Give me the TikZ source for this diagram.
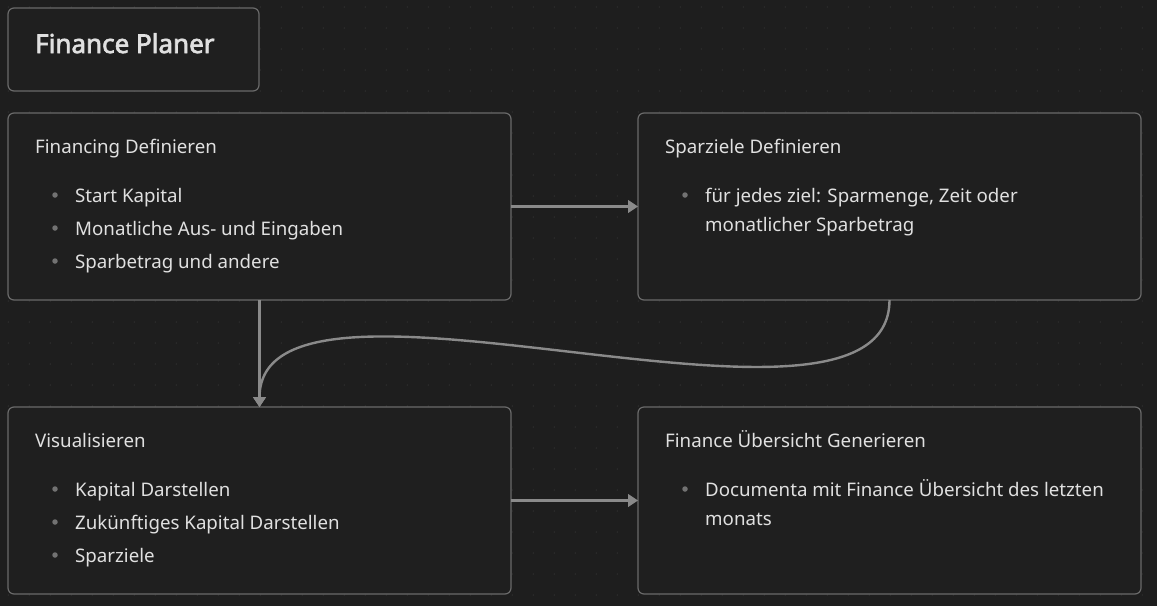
\documentclass[tikz,border=0pt]{standalone}
\usepackage{fontspec}
\setmainfont{Noto Sans}
\newfontfamily\titlefont[FakeBold=2.6]{Noto Sans}
\usetikzlibrary{arrows.meta}
\definecolor{bgc}{HTML}{1E1E1E}
\definecolor{boxfill}{HTML}{1F1F1F}
\definecolor{boxline}{HTML}{6A6A6A}
\definecolor{arrowc}{HTML}{8A8A8A}
\definecolor{txtc}{HTML}{E0E0E0}
\definecolor{dotc}{HTML}{2E2E2E}
\definecolor{bulc}{HTML}{727272}
\tikzset{
  card/.style={draw=boxline, fill=boxfill, line width=1.2pt, rounded corners=6pt,
    minimum width=503pt, minimum height=187pt, inner sep=0pt, outer sep=0pt},
  titlecard/.style={card, minimum width=251pt, minimum height=83pt},
  head/.style={anchor=base west, inner sep=0pt, text=txtc, font=\fontsize{18.7}{22}\selectfont},
  item/.style={head},
  titletxt/.style={anchor=base west, inner sep=0pt, text=txtc, font=\titlefont\fontsize{26}{30}\selectfont},
  bul/.style={circle, fill=bulc, inner sep=0pt, minimum size=5.5pt},
  conn/.style={draw=arrowc, line width=2.4pt, -{Triangle[length=10pt,width=12.5pt]}},
}
\begin{document}
\begin{tikzpicture}[x=1pt,y=-1pt]
\fill[bgc] (0,0) rectangle (1157,606);
\useasboundingbox (0,0) rectangle (1157,606);
\foreach \i in {0,...,54}{
  \foreach \j in {0,...,28}{
    \fill[dotc] ({8.3+21*\i},{7+21*\j}) circle (0.8);
  }
}
% cards
\node[titlecard] (T) at (133.5,49.5) {};
\node[card] (A) at (259.5,206.5) {};
\node[card] (B) at (889.5,206.5) {};
\node[card] (C) at (259.5,500.5) {};
\node[card] (D) at (889.5,500.5) {};
% title
\node[titletxt] (Tt) at (35,53) {Finance Planer};
% A
\node[head] (Ah) at (35,153) {Financing Definieren};
\node[bul] (Ab1) at (55,195) {};
\node[item] (Ai1) at (75,202) {Start Kapital};
\node[bul] (Ab2) at (55,228) {};
\node[item] (Ai2) at (75,235) {Monatliche Aus- und Eingaben};
\node[bul] (Ab3) at (55,261) {};
\node[item] (Ai3) at (75,268) {Sparbetrag und andere};
% B
\node[head] (Bh) at (665,153) {Sparziele Definieren};
\node[bul] (Bb1) at (685,195) {};
\node[item] (Bi1) at (705,202) {für jedes ziel: Sparmenge, Zeit oder};
\node[item] (Bi2) at (705,231) {monatlicher Sparbetrag};
% C
\node[head] (Ch) at (35,447) {Visualisieren};
\node[bul] (Cb1) at (55,489) {};
\node[item] (Ci1) at (75,496) {Kapital Darstellen};
\node[bul] (Cb2) at (55,522) {};
\node[item] (Ci2) at (75,529) {Zukünftiges Kapital Darstellen};
\node[bul] (Cb3) at (55,555) {};
\node[item] (Ci3) at (75,562) {Sparziele};
% D
\node[head] (Dh) at (665,447) {Finance Übersicht Generieren};
\node[bul] (Db1) at (685,489) {};
\node[item] (Di1) at (705,496) {Documenta mit Finance Übersicht des letzten};
\node[item] (Di2) at (705,525) {monats};
% connectors
\draw[conn] (A.east) -- (B.west);
\draw[conn] (C.east) -- (D.west);
\draw[conn] (A.south) -- (C.north);
\draw[conn] (B.south) .. controls +(0,175) and +(0,-175) .. (C.north);
\end{tikzpicture}
\end{document}
